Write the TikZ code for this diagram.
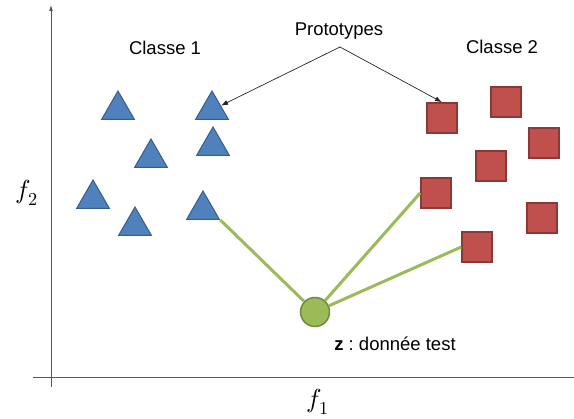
\documentclass[tikz,border=0pt]{standalone}
\usepackage{fontspec}
\usepackage{unicode-math}
\setmainfont{Liberation Sans}
\setmathfont{Latin Modern Math}
\usetikzlibrary{shapes.geometric,arrows.meta}
\definecolor{myblue}{RGB}{79,129,189}
\definecolor{mybluedark}{RGB}{56,93,138}
\definecolor{myred}{RGB}{192,80,77}
\definecolor{myreddark}{RGB}{140,56,54}
\definecolor{mygreen}{RGB}{155,187,89}
\definecolor{mygreendark}{RGB}{113,137,63}
\definecolor{myaxis}{RGB}{89,89,89}
\newcommand*{\mytextstyle}{\fontsize{18.5}{21}\selectfont\color{black}}
\newcommand*{\myaxisstyle}{\fontsize{26}{28}\selectfont}
\tikzset{
   mytriangle/.style = {
      regular polygon, regular polygon sides = 3,
      minimum size = 38pt, inner sep = 0pt,
      fill = myblue, draw = mybluedark, line width = 1pt
   },
   mysquare/.style = {
      rectangle, minimum size = 30pt, inner sep = 0pt,
      fill = myred, draw = myreddark, line width = 1.6pt
   },
   mylink/.style = {mygreen, line width = 3pt},
   myarrow/.style = {black!85, line width = 0.7pt, -{Latex[length=7pt,width=5pt]}}
}

\begin{document}
\begin{tikzpicture}[x=1pt, y=-1pt]
   \useasboundingbox (0,0) rectangle (574,419);

   % axes
   \draw[myaxis, line width = 0.8pt, -{Latex[length=6pt,width=4pt]}] (51,387) -- (51,5);
   \draw[myaxis, line width = 0.8pt] (33,377) -- (574,377);
   \node (f2) at (27,193) [font = \myaxisstyle] {$f_2$};
   \node (f1) at (318,402) [font = \myaxisstyle] {$f_1$};

   % classe 1
   \node (t1) at (118,110) [mytriangle] {};
   \node (t2) at (212,110) [mytriangle] {};
   \node (t3) at (151,158) [mytriangle] {};
   \node (t4) at (213,146) [mytriangle] {};
   \node (t5) at ( 93,199) [mytriangle] {};
   \node (t6) at (135,226) [mytriangle] {};
   \node (t7) at (203,210) [mytriangle] {};

   % classe 2
   \node (s1) at (442,118) [mysquare] {};
   \node (s2) at (506,102) [mysquare] {};
   \node (s3) at (544,143) [mysquare] {};
   \node (s4) at (491,166) [mysquare] {};
   \node (s5) at (436,193) [mysquare] {};
   \node (s6) at (542,218) [mysquare] {};
   \node (s7) at (477,247) [mysquare] {};

   % test point
   \node (z) at (315,312) [
      circle,
      minimum size = 29pt,
      fill  = mygreen,
      draw  = mygreendark,
      line width = 1.5pt
   ]{};
   \draw[mylink] (t7.corner 3) -- (z);
   \draw[mylink] (z) -- (s5.west);
   \draw[mylink] (z) -- (s7.west);

   % labels
   \node (c1) at (165,48) [font = \mytextstyle] {Classe 1};
   \node (c2) at (502,47) [font = \mytextstyle] {Classe 2};
   \node (proto) at (339,31) [font = \mytextstyle] {Prototypes};
   \node (ztext) at (395,344) [font = \mytextstyle] {\textbf{z} :\ donnée test};

   \coordinate (apex) at (340,47);
   \draw[myarrow] (apex) -- (t2);
   \draw[myarrow] (apex) -- (s1.north);
\end{tikzpicture}
\end{document}
